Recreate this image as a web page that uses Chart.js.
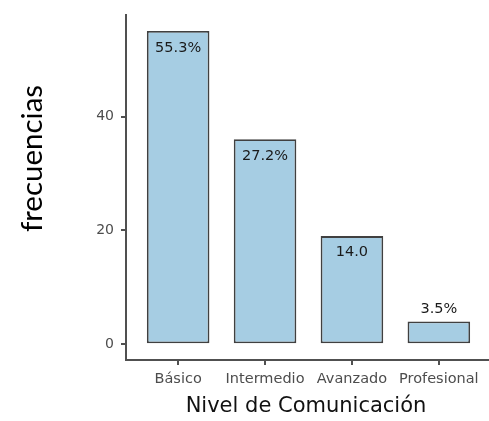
<!DOCTYPE html>
<html>
<head>
<meta charset="utf-8">
<script src="https://cdn.jsdelivr.net/npm/chart.js@4"></script>
<style>
html,body{margin:0;padding:0;background:#fff;overflow:hidden;width:489px;height:421px;}
#wrap{position:relative;width:491px;height:421px;}
</style>
</head>
<body>
<div id="wrap"><canvas id="c"></canvas></div>
<script>
const categories = ["Básico", "Intermedio", "Avanzado", "Profesional"];
const frecuencias = [55, 36, 19, 4];
const barLabels = ["55.3%", "27.2%", "14.0", "3.5%"];
const labelPos = [52, 33, 16.2, 6.2];
const yTicks = [0, 20, 40];
const xTitle = "Nivel de Comunicación";
const yTitle = "frecuencias";

const axisColor = "#505050";
const tickTextColor = "#4d4d4d";

const labelsPlugin = {
  id: "barLabels",
  afterDatasetsDraw(chart) {
    const ctx = chart.ctx;
    const xs = chart.scales.x, ys = chart.scales.y;
    ctx.save();
    ctx.fillStyle = "#1a1a1a";
    ctx.font = "14.5px 'DejaVu Sans'";
    ctx.textAlign = "center";
    ctx.textBaseline = "middle";
    barLabels.forEach((t, i) => {
      ctx.fillText(t, xs.getPixelForValue(i), ys.getPixelForValue(labelPos[i]));
    });
    ctx.restore();
  },
  afterDraw(chart) {
    const ctx = chart.ctx;
    ctx.save();
    ctx.fillStyle = "#111";
    ctx.font = "21px 'DejaVu Sans'";
    ctx.textAlign = "center";
    ctx.textBaseline = "middle";
    ctx.fillText(xTitle, 306, 407);
    ctx.translate(42, 158.5);
    ctx.rotate(-Math.PI / 2);
    ctx.font = "29.5px Lato";
    ctx.fillStyle = "#000";
    ctx.textBaseline = "alphabetic";
    ctx.fillText(yTitle, 0, 0);
    ctx.restore();
  }
};

new Chart(document.getElementById("c"), {
  type: "bar",
  data: {
    datasets: [{
      data: frecuencias.map((v, i) => ({ x: i, y: v })),
      backgroundColor: "#a6cde3",
      borderColor: "#404040",
      borderWidth: 1.8,
      borderSkipped: false,
      barPercentage: 0.72,
      categoryPercentage: 1
    }]
  },
  options: {
    responsive: true,
    maintainAspectRatio: false,
    animation: false,
    layout: { padding: { left: 0, right: 0, top: 14, bottom: 0 } },
    plugins: { legend: { display: false }, tooltip: { enabled: false } },
    scales: {
      x: {
        type: "linear",
        offset: false,
        min: -0.6,
        max: 3.6,
        afterFit(s) { s.height = 61; },
        ticks: {
          stepSize: 1,
          includeBounds: false,
          padding: 6,
          color: tickTextColor,
          font: { family: "DejaVu Sans", size: 14.5 },
          callback: (v) => categories[v] !== undefined && Number.isInteger(v) ? categories[v] : ""
        },
        grid: { offset: false, drawOnChartArea: false, drawTicks: true, tickLength: 5, color: axisColor, lineWidth: 2 },
        border: { display: true, color: axisColor, width: 2 }
      },
      y: {
        min: -2.75,
        max: 57.75,
        afterFit(s) { s.width = 126; },
        afterBuildTicks(s) { s.ticks = yTicks.map(v => ({ value: v })); },
        ticks: {
          padding: 7,
          color: tickTextColor,
          font: { family: "DejaVu Sans", size: 14 }
        },
        grid: { drawOnChartArea: false, drawTicks: true, tickLength: 5, color: axisColor, lineWidth: 2 },
        border: { display: true, color: axisColor, width: 2 }
      }
    }
  },
  plugins: [labelsPlugin]
});
</script>
</body>
</html>
